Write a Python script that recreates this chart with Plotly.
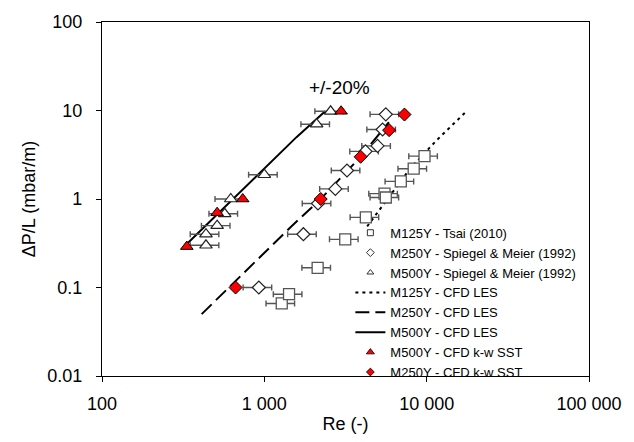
import plotly.graph_objects as go

# ---- data ----
# M125Y - Tsai (2010)  (open squares)
tsai_re = [1280, 1420, 2130, 3150, 4220, 5500, 5600, 6930, 8320, 9700]
tsai_dp = [0.066, 0.084, 0.167, 0.35, 0.62, 1.15, 1.04, 1.58, 2.2, 3.05]

# M250Y - Spiegel & Meier (1992) (open diamonds)
sm250_re = [925, 1740, 2140, 2740, 3230, 4200, 4980, 5350, 5600]
sm250_dp = [0.10, 0.40, 0.89, 1.30, 2.10, 3.45, 3.98, 6.1, 9.05]

# M500Y - Spiegel & Meier (1992) (open triangles)
sm500_re = [437, 437, 512, 570, 621, 1000, 2100, 2560]
sm500_dp = [0.30, 0.40, 0.50, 0.68, 1.0, 1.88, 7.0, 9.8]

# CFD LES lines
les125_re = [4300, 7900, 11500, 17800]
les125_dp = [0.49, 2.2, 4.6, 10.0]
les250_re = [411, 1450, 2225, 3920, 5850]
les250_dp = [0.05, 0.48, 1.0, 3.0, 7.4]
les500_re = [333, 1578, 2370]
les500_dp = [0.31, 5.0, 9.8]

# CFD k-w SST (red markers)
sst500_re = [333, 512, 736, 2970]
sst500_dp = [0.29, 0.70, 1.0, 9.8]
sst250_re = [665, 2225, 3920, 5870, 7300]
sst250_dp = [0.10, 1.0, 3.0, 6.0, 9.0]

x_tickvals = [100, 1000, 10000, 100000]
x_ticktext = ["100", "1 000", "10 000", "100 000"]
y_tickvals = [0.01, 0.1, 1, 10, 100]
y_ticktext = ["0.01", "0.1", "1", "10", "100"]

FONT = "Liberation Sans, Arial, Helvetica, sans-serif"
err = dict(type="percent", value=20, color="#555555", thickness=1.4, width=3)

fig = go.Figure()

# lines (drawn first, behind markers)
fig.add_trace(go.Scatter(x=les125_re, y=les125_dp, mode="lines", showlegend=False,
                         line=dict(color="black", width=2, dash="3px,4px")))
fig.add_trace(go.Scatter(x=les250_re, y=les250_dp, mode="lines", showlegend=False,
                         line=dict(color="black", width=2, dash="14px,6px")))
fig.add_trace(go.Scatter(x=les500_re, y=les500_dp, mode="lines", showlegend=False,
                         line=dict(color="black", width=2)))

# experimental data with +/-20 % error bars
fig.add_trace(go.Scatter(x=tsai_re, y=tsai_dp, mode="markers", showlegend=False,
                         error_x=err,
                         marker=dict(symbol="square", size=11, color="white",
                                     line=dict(color="#555555", width=1.3))))
fig.add_trace(go.Scatter(x=sm250_re, y=sm250_dp, mode="markers", showlegend=False,
                         error_x=err,
                         marker=dict(symbol="diamond", size=10, color="white",
                                     line=dict(color="#222222", width=1.2))))
fig.add_trace(go.Scatter(x=sm500_re, y=sm500_dp, mode="markers", showlegend=False,
                         error_x=err,
                         marker=dict(symbol="triangle-up", size=11, color="white",
                                     line=dict(color="#222222", width=1.2))))

# CFD k-w SST
fig.add_trace(go.Scatter(x=sst500_re, y=sst500_dp, mode="markers", showlegend=False,
                         marker=dict(symbol="triangle-up", size=11, color="#ff0000",
                                     line=dict(color="black", width=1))))
fig.add_trace(go.Scatter(x=sst250_re, y=sst250_dp, mode="markers", showlegend=False,
                         marker=dict(symbol="diamond", size=10, color="#ff0000",
                                     line=dict(color="black", width=1))))

# legend entries (small symbols as in the reference)
def leg(name, **kw):
    fig.add_trace(go.Scatter(x=[None], y=[None], name=name, **kw))

leg("M125Y - Tsai (2010)", mode="markers",
    marker=dict(symbol="square", size=6, color="white", line=dict(color="#333", width=1)))
leg("M250Y - Spiegel & Meier (1992)", mode="markers",
    marker=dict(symbol="diamond", size=6, color="white", line=dict(color="#333", width=1)))
leg("M500Y - Spiegel & Meier (1992)", mode="markers",
    marker=dict(symbol="triangle-up", size=6, color="white", line=dict(color="#333", width=1)))
leg("M125Y - CFD LES", mode="lines", line=dict(color="black", width=2, dash="3px,4px"))
leg("M250Y - CFD LES", mode="lines", line=dict(color="black", width=2, dash="14px,6px"))
leg("M500Y - CFD LES", mode="lines", line=dict(color="black", width=2))
leg("M500Y - CFD k-w SST", mode="markers",
    marker=dict(symbol="triangle-up", size=7, color="#ff0000", line=dict(color="black", width=0.8)))
leg("M250Y - CFD k-w SST", mode="markers",
    marker=dict(symbol="diamond", size=6, color="#ff0000", line=dict(color="black", width=0.8)))

fig.add_annotation(x=3.46, y=1.255, xref="x", yref="y", text="+/-20%", showarrow=False,
                   font=dict(size=19, color="black", family=FONT))

axis_common = dict(type="log", showgrid=False, zeroline=False, showline=True,
                   linecolor="black", linewidth=1.2, mirror=True, ticks="outside",
                   ticklen=5, tickcolor="black", tickwidth=1,
                   tickfont=dict(size=18, color="black", family=FONT))

fig.update_layout(
    width=634, height=442,
    margin=dict(l=102, r=40, t=21, b=59),
    paper_bgcolor="white", plot_bgcolor="white",
    font=dict(family=FONT, color="black"),
    xaxis=dict(range=[2, 5], tickvals=x_tickvals, ticktext=x_ticktext,
               title=dict(text="Re (-)", font=dict(size=18, family=FONT), standoff=4),
               ticklabelstandoff=6, **axis_common),
    yaxis=dict(range=[-2, 2], tickvals=y_tickvals, ticktext=y_ticktext,
               title=dict(text="ΔP/L (mbar/m)", font=dict(size=18, family=FONT), standoff=6),
               ticklabelstandoff=10, **axis_common),
    legend=dict(x=0.51, y=0.447, xanchor="left", yanchor="top",
                bgcolor="rgba(0,0,0,0)", borderwidth=0,
                font=dict(size=13, family=FONT, color="black"),
                tracegroupgap=0),
    showlegend=True,
)

fig.write_html("out.html")
